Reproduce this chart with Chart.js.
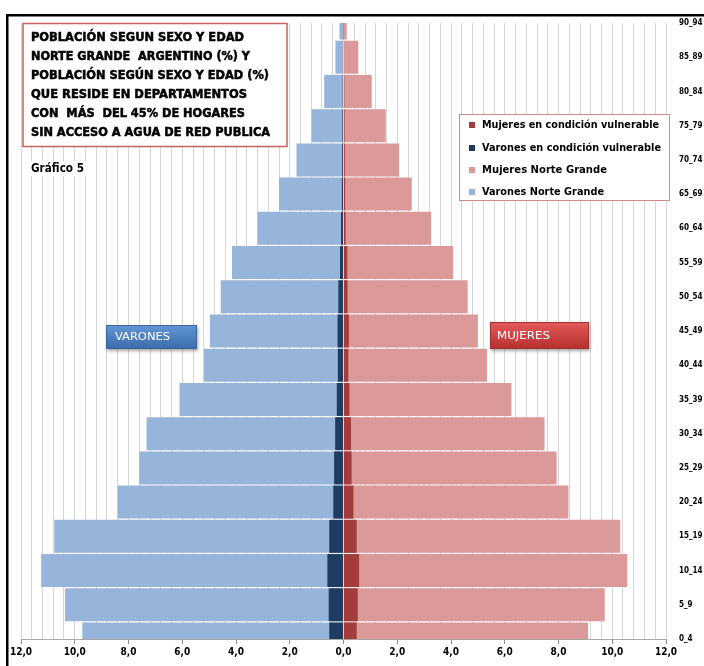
<!DOCTYPE html>
<html>
<head>
<meta charset="utf-8">
<script src="https://cdn.jsdelivr.net/npm/chart.js@4/dist/chart.umd.min.js"></script>
<style>
  html, body { margin: 0; padding: 0; background: #fff; }
  canvas { display: block; }
</style>
</head>
<body>
<canvas id="piramide" width="704" height="666"></canvas>
<script>
// grupos de edad, de abajo hacia arriba
const grupos = ['0_4', '5_9', '10_14', '15_19', '20_24', '25_29', '30_34', '35_39', '40_44', '45_49',
  '50_54', '55_59', '60_64', '65_69', '70_74', '75_79', '80_84', '85_89', '90_94'];

// porcentajes Norte Grande
const varonesNG = [9.72, 10.36, 11.25, 10.76, 8.4, 7.6, 7.33, 6.1, 5.19, 4.97,
  4.57, 4.15, 3.2, 2.4, 1.75, 1.19, 0.72, 0.3, 0.15];
const mujeresNG = [9.1, 9.72, 10.56, 10.3, 8.37, 7.93, 7.48, 6.25, 5.34, 5.0,
  4.62, 4.08, 3.26, 2.54, 2.07, 1.57, 1.05, 0.55, 0.12];

// porcentajes en departamentos vulnerables
const varonesVuln = [0.53, 0.55, 0.6, 0.53, 0.38, 0.35, 0.31, 0.25, 0.21, 0.22,
  0.19, 0.13, 0.09, 0.06, 0.05, 0.04, 0.03, 0.02, 0.01];
const mujeresVuln = [0.49, 0.53, 0.58, 0.49, 0.37, 0.3, 0.28, 0.22, 0.18, 0.2,
  0.15, 0.14, 0.08, 0.06, 0.05, 0.04, 0.03, 0.02, 0.01];

const tituloLineas = [
  'POBLACIÓN SEGUN SEXO Y EDAD',
  'NORTE GRANDE  ARGENTINO (%) Y',
  'POBLACIÓN SEGÚN SEXO Y EDAD (%)',
  'QUE RESIDE EN DEPARTAMENTOS',
  'CON  MÁS  DEL 45% DE HOGARES',
  'SIN ACCESO A AGUA DE RED PUBLICA'
];

const FUENTE = '"Liberation Sans Narrow", "DejaVu Sans Condensed", "Liberation Sans", Arial, sans-serif';

// escribe un texto ajustado a un ancho dado
function textoAjustado(ctx, texto, x, y, ancho, font) {
  ctx.save();
  ctx.font = font;
  const m = ctx.measureText(texto).width;
  ctx.translate(x, y);
  ctx.scale(ancho / m, 1);
  ctx.fillText(texto, 0, 0);
  ctx.restore();
}

function boton(ctx, x, y, w, h, c1, c2, borde, texto, tx, tw) {
  ctx.save();
  ctx.shadowColor = 'rgba(0,0,0,0.35)';
  ctx.shadowBlur = 3;
  ctx.shadowOffsetX = 1;
  ctx.shadowOffsetY = 2;
  const g = ctx.createLinearGradient(0, y, 0, y + h);
  g.addColorStop(0, c1);
  g.addColorStop(1, c2);
  ctx.fillStyle = g;
  ctx.fillRect(x, y, w, h);
  ctx.restore();
  ctx.save();
  ctx.strokeStyle = borde;
  ctx.lineWidth = 1;
  ctx.strokeRect(x + 0.5, y + 0.5, w - 1, h - 1);
  ctx.fillStyle = '#fff';
  ctx.textBaseline = 'middle';
  textoAjustado(ctx, texto, tx, y + h / 2 + 0.5, tw, '11px ' + FUENTE);
  ctx.restore();
}

const decoracion = {
  id: 'decoracion',
  afterDraw(chart) {
    const ctx = chart.ctx;

    // recuadro del título
    ctx.save();
    ctx.fillStyle = '#fff';
    ctx.fillRect(23, 23, 264, 123);
    ctx.strokeStyle = '#c8605e';
    ctx.lineWidth = 1.5;
    ctx.strokeRect(23, 23.5, 264, 123);
    ctx.fillStyle = '#000';
    ctx.strokeStyle = '#000';
    ctx.lineWidth = 0.5;
    ctx.textBaseline = 'middle';
    const anchos = [213, 219, 238, 216, 214, 239];
    const ys = [38, 57, 76, 95, 114, 133];
    tituloLineas.forEach((t, i) => {
      ctx.save();
      ctx.font = 'bold 13px ' + FUENTE;
      const m = ctx.measureText(t).width;
      ctx.translate(31, ys[i]);
      ctx.scale(anchos[i] / m, 1);
      ctx.fillText(t, 0, 0);
      ctx.strokeText(t, 0, 0);
      ctx.restore();
    });

    // Gráfico 5
    ctx.fillStyle = '#fff';
    ctx.fillRect(29, 161, 58, 15);
    ctx.fillStyle = '#000';
    textoAjustado(ctx, 'Gráfico 5', 31, 168.5, 53, 'bold 12px ' + FUENTE);
    ctx.restore();

    // leyenda
    ctx.save();
    ctx.fillStyle = '#fff';
    ctx.fillRect(459, 114, 210, 86);
    ctx.strokeStyle = '#cf8a8a';
    ctx.lineWidth = 1;
    ctx.strokeRect(459.5, 114.5, 210, 86);
    ctx.textBaseline = 'middle';
    const ly = [125, 148, 170, 192];
    const lw = [177, 179, 125, 122];
    chart.data.datasets.forEach((ds, i) => {
      ctx.fillStyle = ds.backgroundColor;
      ctx.fillRect(469, ly[i] - 3, 6, 6);
      ctx.fillStyle = '#000';
      textoAjustado(ctx, ds.label, 482, ly[i] + 0.5, lw[i], 'bold 11px ' + FUENTE);
    });
    ctx.restore();

    // etiquetas de sexo
    boton(ctx, 106, 325, 91, 24, '#6196d6', '#3b6cab', '#3a669c', 'VARONES', 115, 55);
    boton(ctx, 490, 322, 99, 27, '#e45a58', '#b52f2f', '#a33333', 'MUJERES', 497, 53);

    // marco
    ctx.save();
    ctx.fillStyle = '#000';
    ctx.fillRect(6, 14, 698, 2.5);
    ctx.fillRect(6, 14, 2.5, 652);
    ctx.restore();
  }
};

const esMayor = v => Math.round(v * 10) % 20 === 0;

new Chart(document.getElementById('piramide'), {
  type: 'bar',
  data: {
    labels: grupos,
    datasets: [
      { label: 'Mujeres en condición vulnerable', data: mujeresVuln, backgroundColor: '#a43c3c' },
      { label: 'Varones en condición vulnerable', data: varonesVuln.map(v => -v), backgroundColor: '#1f3d63' },
      { label: 'Mujeres Norte Grande', data: mujeresNG, backgroundColor: '#dc999a' },
      { label: 'Varones Norte Grande', data: varonesNG.map(v => -v), backgroundColor: '#97b5da' }
    ]
  },
  options: {
    indexAxis: 'y',
    responsive: false,
    animation: false,
    layout: { padding: { left: 21, top: 23, right: 0, bottom: 0 } },
    datasets: {
      bar: { grouped: false, barPercentage: 0.965, categoryPercentage: 1, clip: 0 }
    },
    plugins: {
      legend: { display: false },
      tooltip: { enabled: false }
    },
    scales: {
      x: {
        type: 'linear',
        min: -12,
        max: 12,
        afterFit(scale) { scale.height = 27; },
        ticks: {
          stepSize: 0.4,
          autoSkip: false,
          maxRotation: 0,
          padding: 2,
          color: '#000',
          font: { family: FUENTE, size: 10, weight: 'bold' },
          callback: v => esMayor(v) ? (Math.abs(Math.round(v * 10)) / 10).toFixed(1).replace('.', ',') : ''
        },
        grid: {
          color: '#d6d6d6',
          tickLength: 5,
          tickColor: c => (c.tick && esMayor(c.tick.value)) ? '#8c8c8c' : 'rgba(0,0,0,0)'
        },
        border: { color: '#a6a6a6' }
      },
      y: {
        type: 'category',
        position: 'right',
        reverse: true,
        offset: false,
        afterFit(scale) { scale.width = 38; },
        grid: { display: false, offset: false },
        border: { display: false },
        ticks: {
          padding: 5,
          color: '#000',
          font: { family: FUENTE, size: 8, weight: 'bold' }
        }
      }
    }
  },
  plugins: [decoracion]
});
</script>
</body>
</html>
